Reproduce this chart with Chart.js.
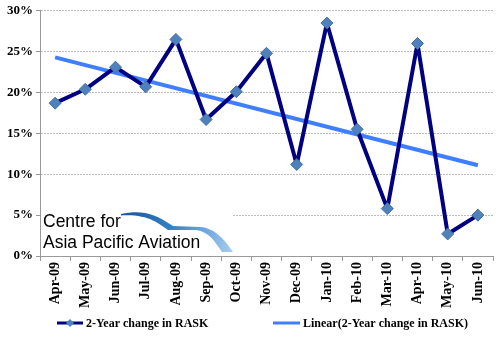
<!DOCTYPE html>
<html>
<head>
<meta charset="utf-8">
<script src="https://cdn.jsdelivr.net/npm/chart.js@4/dist/chart.umd.min.js"></script>
<style>
  html, body { margin: 0; padding: 0; background: #fff; }
  #wrap { width: 500px; height: 346px; }
</style>
</head>
<body>
<div id="wrap"><canvas id="chart" width="500" height="346"></canvas></div>
<script>
// 2-year change in RASK, monthly, with a straight-line trend
const MONTHS = ["Apr-09", "May-09", "Jun-09", "Jul-09", "Aug-09", "Sep-09", "Oct-09", "Nov-09",
                "Dec-09", "Jan-10", "Feb-10", "Mar-10", "Apr-10", "May-10", "Jun-10"];
const RASK_CHANGE = [18.7, 20.4, 23.1, 20.7, 26.5, 16.7, 20.1, 24.8, 11.2, 28.5, 15.5, 5.8, 26.0, 2.7, 5.0];
// trend only has its two end values; the line is spanned between them
const TREND = [24.3, null, null, null, null, null, null, null, null, null, null, null, null, null, 11.1];
const Y_TICKS = [0, 5, 10, 15, 20, 25, 30];

const NAVY = "#000080", TREND_BLUE = "#3f7fff", MARKER = "#4f81bd";
const SERIF = "'Liberation Serif', 'Times New Roman', serif";

// logo block in the lower-left corner of the plot, plus the custom legend
const decor = {
  id: "decor",
  beforeDatasetsDraw(chart) {
    const ctx = chart.ctx;
    ctx.save();
    ctx.fillStyle = "#fff";
    ctx.fillRect(41, 204, 192, 50);

    // swoosh: one ribbon stepping down twice, dark to pale blue
    const g = ctx.createLinearGradient(120, 210, 232, 252);
    g.addColorStop(0, "#16539c");
    g.addColorStop(0.45, "#3580c4");
    g.addColorStop(1, "#a8cdef");
    ctx.fillStyle = g;
    ctx.beginPath();
    ctx.moveTo(121, 214);
    ctx.bezierCurveTo(140, 210, 153, 212, 173, 226);
    ctx.lineTo(200, 227);
    ctx.bezierCurveTo(215, 228, 225, 240, 233, 252);
    ctx.lineTo(222, 252);
    ctx.bezierCurveTo(215, 242, 210, 232, 196, 230);
    ctx.lineTo(168, 230);
    ctx.bezierCurveTo(158, 223, 148, 214, 121, 215.5);
    ctx.closePath();
    ctx.fill();

    ctx.fillStyle = "#000";
    ctx.font = "17.5px 'Liberation Sans', Arial, sans-serif";
    ctx.textBaseline = "alphabetic";
    ctx.fillText("Centre for", 43, 227);
    ctx.fillText("Asia Pacific Aviation", 43, 248);
    ctx.restore();
  },
  afterDraw(chart) {
    const ctx = chart.ctx, y = 323;
    ctx.save();
    ctx.lineWidth = 3;
    ctx.strokeStyle = NAVY;
    ctx.beginPath(); ctx.moveTo(57, y); ctx.lineTo(83, y); ctx.stroke();
    ctx.fillStyle = MARKER;
    ctx.beginPath();
    ctx.moveTo(70, y - 4); ctx.lineTo(74, y); ctx.lineTo(70, y + 4); ctx.lineTo(66, y);
    ctx.closePath(); ctx.fill();
    ctx.strokeStyle = TREND_BLUE;
    ctx.beginPath(); ctx.moveTo(273, y); ctx.lineTo(300, y); ctx.stroke();

    ctx.fillStyle = "#000";
    ctx.font = "bold 12px " + SERIF;
    ctx.textBaseline = "middle";
    ctx.fillText("2-Year change in RASK", 86, y + 1);
    ctx.fillText("Linear(2-Year change in RASK)", 303, y + 1);
    ctx.restore();
  }
};

new Chart(document.getElementById("chart"), {
  type: "line",
  data: {
    labels: MONTHS,
    datasets: [
      {
        label: "2-Year change in RASK", data: RASK_CHANGE,
        borderColor: NAVY, borderWidth: 4, tension: 0, borderJoinStyle: "round",
        pointStyle: "rectRot", pointRadius: 6, pointBackgroundColor: MARKER,
        pointBorderColor: "#41719c", pointBorderWidth: 1, order: 1,
      },
      {
        label: "Linear(2-Year change in RASK)", data: TREND, spanGaps: true,
        borderColor: TREND_BLUE, borderWidth: 4, pointRadius: 0, order: 2,
      },
    ],
  },
  options: {
    responsive: false, animation: false, devicePixelRatio: 1,
    layout: { padding: { top: 5, right: 4, bottom: 0, left: 0 } },
    plugins: { legend: { display: false }, tooltip: { enabled: false } },
    scales: {
      x: {
        offset: true,
        afterFit: s => { s.height = 90; },
        grid: { drawOnChartArea: false, offset: true, tickLength: 5, color: "#999" },
        border: { color: "#999" },
        ticks: { color: "#000", minRotation: 90, maxRotation: 90, padding: 1,
                 font: { family: SERIF, size: 14, weight: "bold", lineHeight: 1 } },
      },
      y: {
        min: 0, max: 30,
        afterFit: s => { s.width = 40; },
        afterBuildTicks: s => { s.ticks = Y_TICKS.map(v => ({ value: v })); },
        grid: { color: "#bdbdbd", tickLength: 4, tickColor: "#999", lineWidth: 1 },
        border: { color: "#999", dash: [2, 1] },
        ticks: { color: "#000", padding: 3, callback: v => v + "%",
                 font: { family: SERIF, size: 13, weight: "bold" } },
      },
    },
  },
  plugins: [decor],
});
</script>
</body>
</html>
